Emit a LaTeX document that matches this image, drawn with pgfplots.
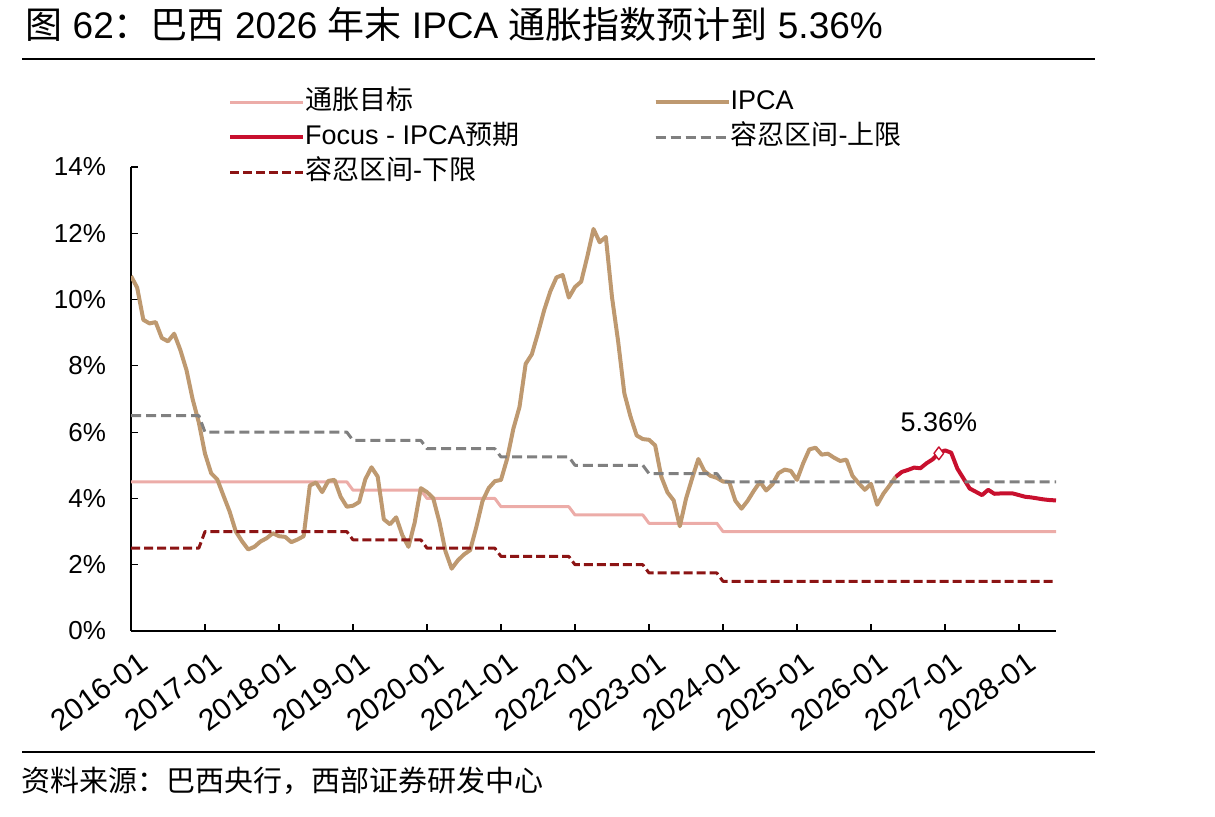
\documentclass[border=0pt]{standalone}
\usepackage{fontspec}
\setmainfont{Liberation Sans}
\newfontfamily\cjk{Noto Sans CJK SC}
\usepackage{pgfplots}
\pgfplotsset{compat=1.18}

\definecolor{cTarget}{RGB}{236,172,168}
\definecolor{cIPCA}{RGB}{190,153,112}
\definecolor{cFocus}{RGB}{200,16,46}
\definecolor{cUpper}{RGB}{128,128,128}
\definecolor{cLower}{RGB}{140,20,20}

\begin{document}
\begin{tikzpicture}
\path[use as bounding box] (0,0) rectangle (607.5bp,408.5bp);
\node[anchor=base west, font=\fontsize{18.5bp}{20bp}\selectfont, inner sep=0pt] at (12.5bp,389.3bp)
  {{\cjk 图} 62{\cjk ：巴西} 2026 {\cjk 年末} IPCA {\cjk 通胀指数预计到} 5.36\%};
\draw[line width=1.2bp] (11bp,379bp) -- (547.5bp,379bp);
\draw[line width=1.2bp] (11bp,32.5bp) -- (547.5bp,32.5bp);
\node[anchor=base west, font=\cjk\fontsize{14.5bp}{16bp}\selectfont, inner sep=0pt] at (10.8bp,13bp)
  {资料来源：巴西央行，西部证券研发中心};

\begin{axis}[
  at={(65.5bp,93bp)}, anchor=south west,
  scale only axis, width=462.5bp, height=232bp,
  xmin=0, xmax=150, ymin=0, ymax=14,
  axis x line=bottom, axis y line=left,
  axis line style={-, line width=0.6bp, black},
  tick align=inside, major tick length=3.5bp,
  tick style={line width=0.6bp, black},
  /pgf/number format/assume math mode=true,
  ticklabel style={font=\fontsize{13bp}{15bp}\selectfont},
  xtick={0,12,24,36,48,60,72,84,96,108,120,132,144},
  xticklabels={2016-01,2017-01,2018-01,2019-01,2020-01,2021-01,2022-01,2023-01,2024-01,2025-01,2026-01,2027-01,2028-01},
  xticklabel style={rotate=36, anchor=north east, inner sep=1bp, yshift=-8.5bp, xshift=-2bp,
    font=\fontsize{15bp}{16bp}\selectfont},
  ytick={0,2,4,6,8,10,12,14},
  yticklabel={\pgfmathprintnumber{\tick}\%},
  yticklabel style={xshift=-9bp},
  legend cell align=left,
  legend image code/.code={\draw[#1] (0bp,0bp) -- (33.5bp,0bp); \path (0bp,0bp) -- (36.5bp,0bp);},
  legend style={draw=none, fill=none, at={(0.105,1.168)}, anchor=north west,
    inner sep=0pt, outer sep=0pt, row sep=4.5bp,
    font=\fontsize{13.5bp}{15bp}\selectfont,
    nodes={inner sep=0pt, text height=10bp, text depth=3bp},
    /tikz/every even column/.append style={column sep=67bp}},
  legend columns=2,
  line join=round,
]
% target
\addplot[cTarget, line width=1.5bp] coordinates {
(0,4.5)(35,4.5)(36,4.25)(47,4.25)(48,4.0)(59,4.0)(60,3.75)(71,3.75)(72,3.5)(83,3.5)(84,3.25)(95,3.25)(96,3.0)(150,3.0)};
\addlegendentry{{\cjk 通胀目标}}
% IPCA
\addplot[cIPCA, line width=2bp] coordinates {
(0,10.71)(1,10.36)(2,9.39)(3,9.28)(4,9.32)(5,8.84)(6,8.74)(7,8.97)(8,8.48)(9,7.87)(10,6.99)(11,6.29)
(12,5.35)(13,4.76)(14,4.57)(15,4.08)(16,3.60)(17,3.00)(18,2.71)(19,2.46)(20,2.54)(21,2.70)(22,2.80)(23,2.95)
(24,2.86)(25,2.84)(26,2.68)(27,2.76)(28,2.86)(29,4.39)(30,4.48)(31,4.19)(32,4.53)(33,4.56)(34,4.05)(35,3.75)
(36,3.78)(37,3.89)(38,4.58)(39,4.94)(40,4.66)(41,3.37)(42,3.22)(43,3.43)(44,2.89)(45,2.54)(46,3.27)(47,4.31)
(48,4.19)(49,4.01)(50,3.30)(51,2.40)(52,1.88)(53,2.13)(54,2.31)(55,2.44)(56,3.14)(57,3.92)(58,4.31)(59,4.52)
(60,4.56)(61,5.20)(62,6.10)(63,6.76)(64,8.06)(65,8.35)(66,8.99)(67,9.68)(68,10.25)(69,10.67)(70,10.74)(71,10.06)
(72,10.38)(73,10.54)(74,11.30)(75,12.13)(76,11.73)(77,11.89)(78,10.07)(79,8.73)(80,7.17)(81,6.47)(82,5.90)(83,5.79)
(84,5.77)(85,5.60)(86,4.65)(87,4.18)(88,3.94)(89,3.16)(90,3.99)(91,4.61)(92,5.19)(93,4.82)(94,4.68)(95,4.62)
(96,4.51)(97,4.50)(98,3.93)(99,3.69)(100,3.93)(101,4.23)(102,4.50)(103,4.24)(104,4.42)(105,4.76)(106,4.87)(107,4.83)
(108,4.56)(109,5.06)(110,5.48)(111,5.53)(112,5.32)(113,5.35)(114,5.23)(115,5.13)(116,5.17)(117,4.68)(118,4.46)(119,4.26)
(120,4.44)(121,3.81)(122,4.14)(123,4.39)(124,4.65)};
\addlegendentry{IPCA}
% Focus
\addplot[cFocus, line width=2bp] coordinates {
(124,4.65)(125,4.80)(126,4.86)(127,4.93)(128,4.91)(129,5.06)(130,5.18)(131,5.36)(132,5.45)(133,5.38)
(134,4.90)(135,4.60)(136,4.30)(137,4.20)(138,4.10)(139,4.26)(140,4.14)(141,4.15)(142,4.15)(143,4.15)
(144,4.10)(145,4.05)(146,4.03)(147,4.00)(148,3.97)(149,3.95)(150,3.94)};
\addlegendentry{Focus - IPCA{\cjk 预期}}
% upper
\addplot[cUpper, line width=1.5bp, dash pattern=on 5bp off 2.5bp] coordinates {
(0,6.5)(11,6.5)(12,6.0)(35,6.0)(36,5.75)(47,5.75)(48,5.5)(59,5.5)(60,5.25)(71,5.25)(72,5.0)(83,5.0)(84,4.75)(95,4.75)(96,4.5)(150,4.5)};
\addlegendentry{{\cjk 容忍区间}-{\cjk 上限}}
% lower
\addplot[cLower, line width=1.5bp, dash pattern=on 4.5bp off 2bp] coordinates {
(0,2.5)(11,2.5)(12,3.0)(35,3.0)(36,2.75)(47,2.75)(48,2.5)(59,2.5)(60,2.25)(71,2.25)(72,2.0)(83,2.0)(84,1.75)(95,1.75)(96,1.5)(150,1.5)};
\addlegendentry{{\cjk 容忍区间}-{\cjk 下限}}
% highlighted point
\addplot[only marks, mark=diamond*, mark size=3.2bp, forget plot,
  mark options={fill=white, draw=cFocus, line width=0.7bp},
  nodes near coords={5.36\%},
  every node near coord/.append style={anchor=center, yshift=15.5bp, text=black,
    font=\fontsize{13.5bp}{15bp}\selectfont}]
  coordinates {(131,5.36)};
\end{axis}
\end{tikzpicture}
\end{document}
